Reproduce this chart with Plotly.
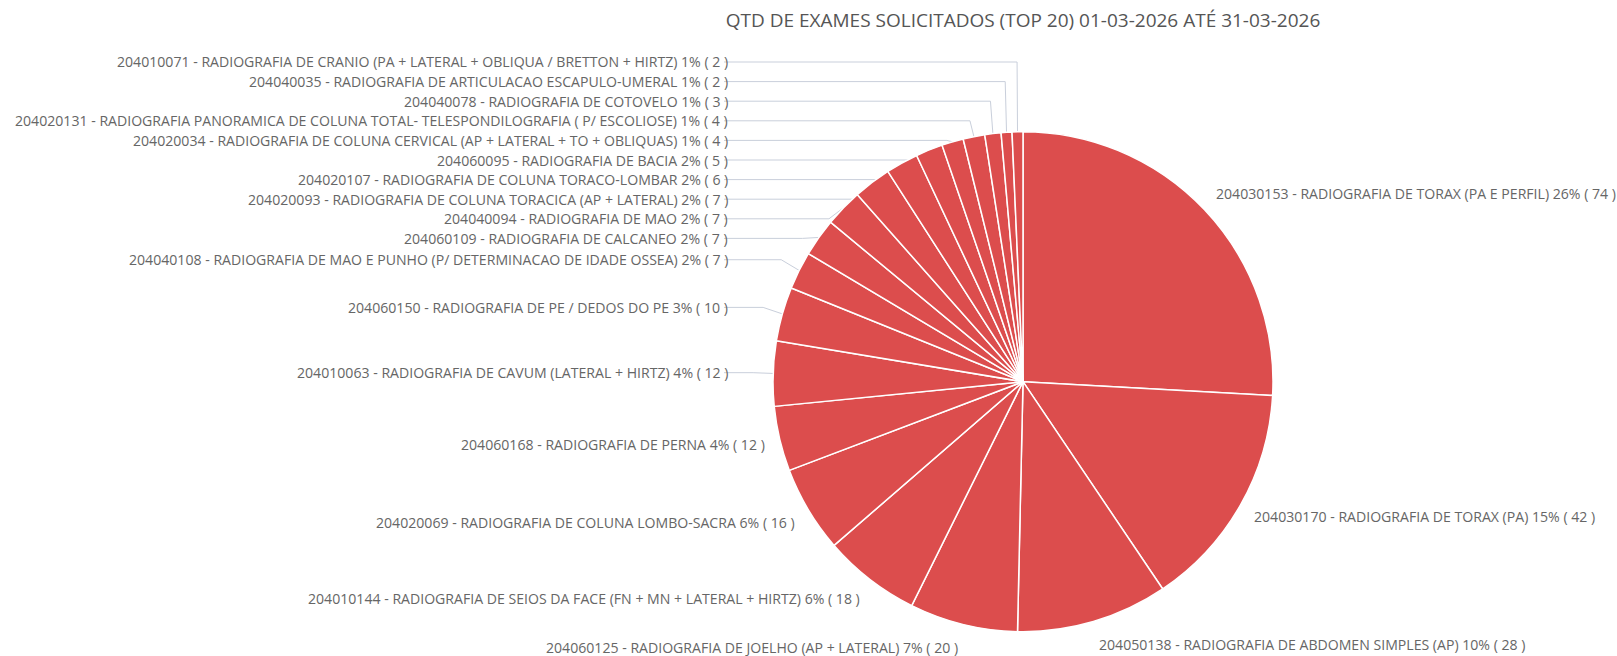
import math
import plotly.graph_objects as go

labels = [
    "204030153 - RADIOGRAFIA DE TORAX (PA E PERFIL)",
    "204030170 - RADIOGRAFIA DE TORAX (PA)",
    "204050138 - RADIOGRAFIA DE ABDOMEN SIMPLES (AP)",
    "204060125 - RADIOGRAFIA DE JOELHO (AP + LATERAL)",
    "204010144 - RADIOGRAFIA DE SEIOS DA FACE (FN + MN + LATERAL + HIRTZ)",
    "204020069 - RADIOGRAFIA DE COLUNA LOMBO-SACRA",
    "204060168 - RADIOGRAFIA DE PERNA",
    "204010063 - RADIOGRAFIA DE CAVUM (LATERAL + HIRTZ)",
    "204060150 - RADIOGRAFIA DE PE / DEDOS DO PE",
    "204040108 - RADIOGRAFIA DE MAO E PUNHO (P/ DETERMINACAO DE IDADE OSSEA)",
    "204060109 - RADIOGRAFIA DE CALCANEO",
    "204040094 - RADIOGRAFIA DE MAO",
    "204020093 - RADIOGRAFIA DE COLUNA TORACICA (AP + LATERAL)",
    "204020107 - RADIOGRAFIA DE COLUNA TORACO-LOMBAR",
    "204060095 - RADIOGRAFIA DE BACIA",
    "204020034 - RADIOGRAFIA DE COLUNA CERVICAL (AP + LATERAL + TO + OBLIQUAS)",
    "204020131 - RADIOGRAFIA PANORAMICA DE COLUNA TOTAL- TELESPONDILOGRAFIA ( P/ ESCOLIOSE)",
    "204040078 - RADIOGRAFIA DE COTOVELO",
    "204040035 - RADIOGRAFIA DE ARTICULACAO ESCAPULO-UMERAL",
    "204010071 - RADIOGRAFIA DE CRANIO (PA + LATERAL + OBLIQUA / BRETTON + HIRTZ)",
]
values = [74, 42, 28, 20, 18, 16, 12, 12, 10, 7, 7, 7, 7, 6, 5, 4, 4, 3, 2, 2]

title_text = "QTD DE EXAMES SOLICITADOS (TOP 20) 01-03-2026 ATÉ 31-03-2026"

# ---- layout constants (pixels) ----
W, H = 1617, 656
cx, cy, r = 1023, 381.7, 250
RX, RY = 263, 274          # label anchor ellipse
R_ELBOW = 270              # elbow radius of leader lines
GAP = 19.6                 # min vertical distance between labels
Y_MIN, Y_MAX = 62, 652
CAP = 293                  # horizontal distance of aligned labels from centre
LINE_PAD = 6
font_family = "Open Sans, sans-serif"
label_size = 14.1
label_color = "#666666"
line_color = "#c9cfdb"
slice_color = "#dc4d4d"

total = sum(values)

# ---- compute label positions from the data ----
items = []
cum = 0
for lab, v in zip(labels, values):
    mid = (cum + v / 2) / total * 2 * math.pi
    cum += v
    s, c = math.sin(mid), math.cos(mid)
    items.append(dict(
        text=f"{lab} {v / total:.0%} ( {v} )",
        s=s, c=c, side=1 if s >= 0 else -1,
        y0=cy - RY * c, x0=cx + RX * s,
    ))


def resolve(ys):
    blocks = []  # [start, n, top]
    for i, y in enumerate(ys):
        blocks.append([i, 1, y])
        while len(blocks) > 1:
            ps, pn, pt = blocks[-2]
            cs, cn, ct = blocks[-1]
            if pt + GAP * pn > ct:
                n = pn + cn
                top = sum(ys[k] - GAP * (k - ps) for k in range(ps, ps + n)) / n
                blocks[-2:] = [[ps, n, top]]
            else:
                break
    pos = []
    for s0, n, t in blocks:
        pos += [t + GAP * k for k in range(n)]
    if pos and pos[0] < Y_MIN:
        pos[0] = Y_MIN
        for k in range(1, len(pos)):
            pos[k] = max(pos[k], pos[k - 1] + GAP)
    if pos and pos[-1] > Y_MAX:
        pos[-1] = Y_MAX
        for k in range(len(pos) - 2, -1, -1):
            pos[k] = min(pos[k], pos[k + 1] - GAP)
    return pos


for side in (-1, 1):
    group = sorted([it for it in items if it["side"] == side], key=lambda d: d["y0"])
    pos = resolve([it["y0"] for it in group])
    for it, p in zip(group, pos):
        it["y"] = p
    for upper in (True, False):
        semi = [it for it in group if (it["y0"] < cy) == upper]
        moved = any(abs(it["y"] - it["y0"]) > 1.0 for it in semi)
        for it in semi:
            it["aligned"] = moved
            it["x"] = cx + side * CAP if moved else it["x0"]


def px(x):
    return x / W


def py(y):
    return 1 - y / H


annotations = []
shapes = []
for it in items:
    side = it["side"]
    annotations.append(dict(
        x=px(it["x"]), y=py(it["y"]), xref="paper", yref="paper",
        text=it["text"], showarrow=False,
        xanchor="right" if side < 0 else "left", yanchor="middle",
        font=dict(family=font_family, size=label_size, color=label_color),
    ))
    if it["aligned"]:
        x_start = it["x"] + side * LINE_PAD
        ex, ey = cx + R_ELBOW * it["s"], it["y"]
        sx, sy = cx + r * it["s"], cy - r * it["c"]
        path = (f"M {px(x_start)},{py(it['y'])} L {px(ex)},{py(ey)} "
                f"L {px(sx)},{py(sy)}")
        shapes.append(dict(type="path", path=path, xref="paper", yref="paper",
                           line=dict(color=line_color, width=1), layer="below"))

fig = go.Figure(
    go.Pie(
        labels=labels,
        values=values,
        sort=False,
        direction="clockwise",
        rotation=0,
        textinfo="none",
        marker=dict(colors=[slice_color] * len(values),
                    line=dict(color="white", width=1.5)),
        showlegend=False,
        domain=dict(x=[(cx - r) / W, (cx + r) / W],
                    y=[1 - (cy + r) / H, 1 - (cy - r) / H]),
    )
)

fig.update_layout(
    width=W,
    height=H,
    margin=dict(l=0, r=0, t=0, b=0),
    paper_bgcolor="white",
    plot_bgcolor="white",
    font=dict(family=font_family, color="#555555"),
    annotations=annotations,
    shapes=shapes,
    title=dict(
        text=title_text,
        x=cx / W,
        xanchor="center",
        y=1 - 20.6 / H,
        yanchor="middle",
        font=dict(family=font_family, size=19, color="#555555"),
    ),
)

fig.write_html(
    "out.html",
    config={"displayModeBar": False},
    post_script="document.body.style.margin='0';document.body.style.overflow='hidden';",
)
